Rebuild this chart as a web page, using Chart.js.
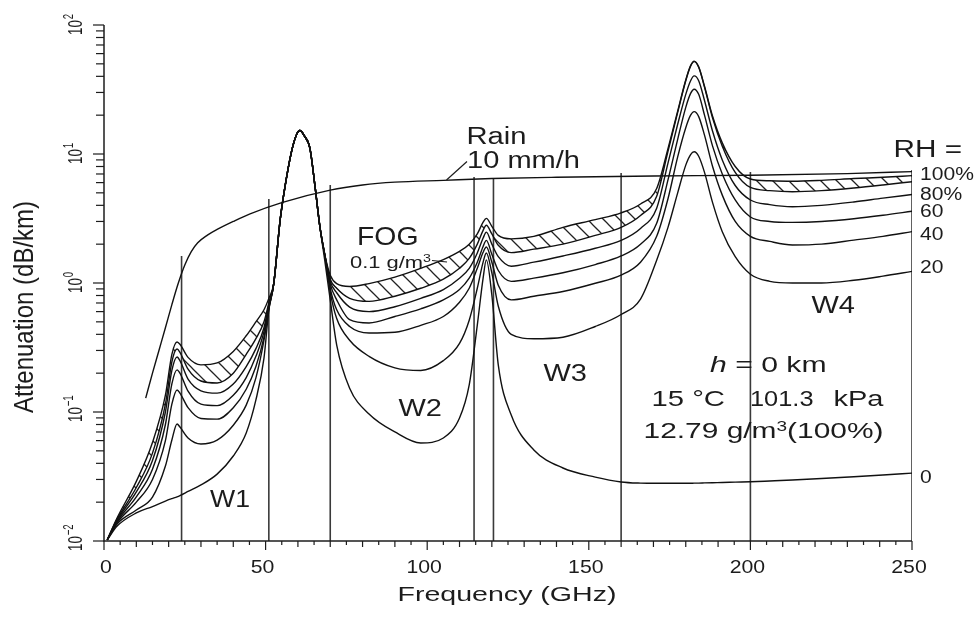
<!DOCTYPE html>
<html><head><meta charset="utf-8">
<script src="https://cdn.jsdelivr.net/npm/chart.js@4.4.1/dist/chart.umd.min.js"></script>
<style>html,body{margin:0;padding:0;background:#fff;}#wrap{width:977px;height:617px;}</style>
</head><body><div id="wrap"><canvas id="c" width="977" height="617"></canvas></div>
<script>
// ---------- data ----------
const FREQ = [1,4,10,15,19,21,22.6,23.5,26,30, 35,40,44,47,49.5,51,52.5,54.5,56,58, 59.5,60.6,62,63.7,65.3,66.8,68.4,70,72,76, 82,90,98,105,110,113,115.5,117.3,118.3,120, 122,126,133,142,152,160,166,171,174.5,177.5, 180,181.5,182.6,184,185.8,188.3,191.3,195.3,200,206, 213,222,232,241,250];
const RH0 = [0.0102,0.013,0.0165,0.0185,0.0204,0.0213,0.022,0.0225,0.0242,0.0272, 0.033,0.0456,0.0688,0.124,0.262,0.616,0.98,3.08,5.58,10.4, 14.0,15.2,13.8,11.1,5.58,2.73,1.44,0.74,0.33,0.153, 0.0965,0.07,0.0575,0.0629,0.0898,0.162,0.472,1.09,1.51,0.807, 0.231,0.0948,0.0508,0.0368,0.0313,0.0287,0.0281,0.028,0.028,0.028, 0.028,0.028,0.0281,0.0281,0.0282,0.0283,0.0284,0.0286,0.0288,0.0292, 0.0297,0.0305,0.0315,0.0325,0.0336];
const RH20 = [0.0102,0.0135,0.0174,0.0219,0.0381,0.0607,0.0807,0.0765,0.0629,0.0565, 0.0606,0.079,0.113,0.184,0.36,0.63,0.98,3.08,5.58,10.4, 14.0,15.2,13.8,11.1,5.58,2.73,1.6,0.85,0.53,0.36, 0.27,0.22,0.21,0.25,0.34,0.515,0.91,1.45,1.71,1.2, 0.66,0.40,0.37,0.38,0.46,0.57,0.75,1.5,2.7,5.0, 8.2,9.9,10.4,9.6,7.2,4.2,2.5,1.6,1.17,1.03, 1.0,1.0,1.05,1.13,1.23];
const RH40 = [0.0102,0.0138,0.020,0.030,0.060,0.115,0.148,0.14,0.108,0.089, 0.088,0.108,0.15,0.225,0.38,0.64,0.98,3.08,5.58,10.4, 14.0,15.2,13.8,11.1,5.58,2.73,1.6,0.91,0.62,0.46, 0.41,0.415,0.47,0.55,0.71,0.91,1.3,1.73,1.9,1.45, 0.96,0.74,0.79,0.86,0.995,1.15,1.45,2.3,4.5,9.5, 16,20,21.3,19.5,14,8.0,4.8,3.0,2.3,2.1, 1.97,2.0,2.15,2.3,2.5];
const RH60 = [0.0102,0.0141,0.022,0.036,0.08,0.165,0.212,0.2,0.145,0.115, 0.112,0.135,0.185,0.27,0.42,0.66,0.98,3.08,5.58,10.4, 14.0,15.2,13.8,11.1,5.58,2.73,1.6,0.98,0.74,0.52, 0.49,0.55,0.63,0.74,0.89,1.09,1.45,1.92,2.14,1.67, 1.25,1.03,1.09,1.2,1.39,1.62,2.0,2.9,6.3,13, 23,29.5,31.8,29,20,11.5,7.0,4.4,3.25,3.0, 2.95,3.0,3.15,3.35,3.6];
const RH80 = [0.0102,0.0144,0.024,0.042,0.1,0.21,0.267,0.25,0.18,0.146, 0.14,0.165,0.225,0.31,0.45,0.68,0.98,3.08,5.58,10.4, 14.0,15.2,13.8,11.1,5.58,2.73,1.6,1.03,0.84,0.65, 0.60,0.655,0.76,0.89,1.09,1.3,1.71,2.23,2.48,2.0, 1.6,1.35,1.45,1.62,1.86,2.14,2.65,3.8,8.5,17, 29,37,40.3,37,26,15,9.0,5.7,4.4,4.05, 3.9,4.0,4.25,4.55,4.85];
const RH100 = [0.0102,0.0147,0.026,0.048,0.115,0.245,0.308,0.29,0.215,0.174, 0.168,0.2,0.28,0.37,0.5,0.7,0.98,3.08,5.58,10.4, 14.0,15.2,13.8,11.1,5.58,2.73,1.6,1.07,0.91,0.76, 0.72,0.79,0.91,1.07,1.3,1.55,2.0,2.56,2.8,2.4, 1.96,1.72,1.83,2.0,2.34,2.7,3.34,4.7,10.5,21, 37,48,52,47,33,19,11.5,7.2,5.5,5.2, 5.1,5.2,5.45,5.75,6.1];
const FOG = [0.0102,0.015,0.029,0.058,0.135,0.28,0.349,0.335,0.265,0.232, 0.24,0.295,0.39,0.5,0.62,0.76,0.99,3.08,5.58,10.4, 14.0,15.2,13.8,11.1,5.58,2.73,1.62,1.15,0.99,0.94, 0.99,1.11,1.3,1.52,1.76,2.0,2.4,2.96,3.17,2.75, 2.34,2.2,2.3,2.7,3.1,3.5,4.1,5.4,11,21.5, 37.5,48.5,52.5,47.5,33.5,19.6,12.2,8.0,6.4,6.2, 6.15,6.25,6.45,6.6,6.8];
const RAIN_FREQ = [12.9,15,17,19,21,23,25,27,29,32,35,40,45,55,70,80,90,105,120,140,170,200,230,250];
const RAIN = [0.128,0.2,0.3,0.45,0.68,1.0,1.38,1.75,2.05,2.35,2.6,3.0,3.42,4.2,5.25,5.75,6.05,6.25,6.45,6.6,6.75,6.85,7.05,7.3];
const WINDOW_EDGES = [24,51,70,114.5,120.5,160,200,250];
const WINDOW_TOPS = [1.62,4.48,5.75,6.64,6.4,7.12,7.25,7.52];
const X_TICK_LABELS = [0,50,100,150,200,250];
const Y_DECADES = [-2,-1,0,1,2];
const RH_LABELS = ['100%','80%','60','40','20','0'];
const WINDOW_NAMES = ['W1','W2','W3','W4'];

// ---------- helpers ----------
const FAM = '"Liberation Sans", Arial, Helvetica, sans-serif';
const pts = (xs, ys) => xs.map((x, i) => ({x: x, y: ys[i]}));
function hatchPattern(){
  const s = 16, c = document.createElement('canvas'); c.width = s; c.height = s;
  const g = c.getContext('2d'); g.strokeStyle = '#222'; g.lineWidth = 1.25;
  [[-s,0],[0,0],[s,0]].forEach(o => { g.beginPath(); g.moveTo(o[0]-1, o[1]-1); g.lineTo(o[0]+s+1, o[1]+s+1); g.stroke(); });
  return g.createPattern(c, 'repeat');
}
function txt(ctx, parts, x, y, o){
  o = o || {};
  ctx.save(); ctx.translate(x, y); if (o.rot) ctx.rotate(o.rot);
  ctx.textBaseline = 'alphabetic'; ctx.textAlign = 'left'; ctx.fillStyle = '#1c1c1c';
  let w = 0;
  const ms = parts.map(p => { ctx.font = (p[3] ? 'italic ' : '') + p[1] + 'px ' + FAM; const m = ctx.measureText(p[0]).width; w += m; return m; });
  const k = o.width ? o.width / w : (o.sx || 1);
  ctx.scale(k, o.sy || 1);
  let cx = o.align === 'center' ? -w / 2 : (o.align === 'right' ? -w : 0);
  parts.forEach((p, i) => { ctx.font = (p[3] ? 'italic ' : '') + p[1] + 'px ' + FAM; ctx.fillText(p[0], cx, -(p[2] || 0)); cx += ms[i]; });
  ctx.restore();
}
function seg(ctx, x1, y1, x2, y2){ ctx.beginPath(); ctx.moveTo(x1, y1); ctx.lineTo(x2, y2); ctx.stroke(); }

const deco = {
  id: 'deco',
  afterDraw(chart){
    const ctx = chart.ctx, X = chart.scales.x, Y = chart.scales.y;
    const L = X.getPixelForValue(0), R = X.getPixelForValue(250), B = Y.getPixelForValue(0.01), T = Y.getPixelForValue(100);
    ctx.save();
    ctx.strokeStyle = '#1c1c1c'; ctx.lineWidth = 1.5;
    seg(ctx, L, T, L, B + 0.5); seg(ctx, L - 0.5, B, R, B);
    ctx.lineWidth = 1.2;
    for (let f = 0; f <= 250; f += 5){
      const px = X.getPixelForValue(f);
      const len = f % 50 === 0 ? 9 : (f % 10 === 0 ? 6 : 4);
      seg(ctx, px, B, px, B + len);
    }
    for (let d = -2; d <= 2; d++){
      for (let m = 1; m <= 9; m++){
        if (d === 2 && m > 1) break;
        const py = Y.getPixelForValue(m * Math.pow(10, d));
        seg(ctx, L, py, L - (m === 1 ? 11 : 8), py);
      }
    }
    X_TICK_LABELS.forEach(v => {
      const px = X.getPixelForValue(v) + (v === 0 ? 2 : -3);
      txt(ctx, [[String(v), 18]], px, 573, {align: 'center', sx: 1.18});
    });
    Y_DECADES.forEach(d => {
      const py = Y.getPixelForValue(Math.pow(10, d));
      const ex = d < 0 ? '\u2212' + Math.abs(d) : String(d);
      ctx.save(); ctx.translate(82, py); ctx.rotate(-Math.PI / 2);
      ctx.fillStyle = '#1c1c1c'; ctx.textBaseline = 'alphabetic';
      const sx = 0.74, sy = 1.1;
      ctx.scale(sx, sy);
      ctx.font = '18px ' + FAM; const w10 = ctx.measureText('10').width;
      const start = -w10 / 2 - 2.5 / sx;
      ctx.fillText('10', start, 0);
      ctx.font = '13px ' + FAM; ctx.fillText(ex, start + w10 + 1, -8.5);
      ctx.restore();
    });
    txt(ctx, [['Frequency (GHz)', 21]], 507, 601, {align: 'center', width: 219});
    txt(ctx, [['Attenuation (dB/km)', 24]], 33, 307, {align: 'center', rot: -Math.PI / 2, sy: 1.16});
    txt(ctx, [['Rain', 23]], 466.5, 144, {width: 60});
    txt(ctx, [['10 mm/h', 23]], 467, 168, {width: 113});
    ctx.lineWidth = 1.2; ctx.strokeStyle = '#1c1c1c';
    seg(ctx, 446.5, 180, 467, 161.5);
    txt(ctx, [['FOG', 25]], 357, 245, {width: 61.5});
    txt(ctx, [['0.1 g/m', 17], ['3', 11, 6]], 350, 268, {width: 81});
    seg(ctx, 432, 260.5, 447, 262);
    const wpos = [[210, 506.5, 40], [398.5, 416, 43.5], [543.5, 381, 43.5], [811.5, 313, 43.5]];
    WINDOW_NAMES.forEach((n, i) => txt(ctx, [[n, 23]], wpos[i][0], wpos[i][1], {width: wpos[i][2]}));
    txt(ctx, [['h', 22, 0, true], [' = 0 km', 22]], 710, 372, {width: 116.5});
    txt(ctx, [['15 \u00b0C', 22]], 651.5, 405.5, {width: 73.5});
    txt(ctx, [['101.3', 22]], 750, 405.5, {width: 63.5});
    txt(ctx, [['kPa', 22]], 833.5, 405.5, {width: 50});
    txt(ctx, [['12.79 g/m', 22], ['3', 14, 7.5], ['(100%)', 22]], 643.5, 438, {width: 240});
    txt(ctx, [['RH =', 23]], 893.5, 156.5, {width: 68.5});
    const rhY = [180, 200, 216.5, 240, 272.5, 483];
    RH_LABELS.forEach((s, i) => txt(ctx, [[s, 18]], 920, rhY[i], {sx: 1.17}));
    ctx.restore();
  }
};

const curve = {borderColor: '#111', borderWidth: 1.4, pointRadius: 0, cubicInterpolationMode: 'monotone', fill: false};
const datasets = [
  Object.assign({data: pts(FREQ, RH0)}, curve),
  Object.assign({data: pts(FREQ, RH20)}, curve),
  Object.assign({data: pts(FREQ, RH40)}, curve),
  Object.assign({data: pts(FREQ, RH60)}, curve),
  Object.assign({data: pts(FREQ, RH80)}, curve),
  Object.assign({data: pts(FREQ, RH100)}, curve),
  Object.assign({}, curve, {data: pts(FREQ, FOG), fill: '-1', backgroundColor: hatchPattern()}),
  Object.assign({data: pts(RAIN_FREQ, RAIN)}, curve),
];
WINDOW_EDGES.forEach((f, i) => datasets.push({data: [{x: f, y: 0.01}, {x: f, y: WINDOW_TOPS[i]}], borderColor: '#3a3a3a', borderWidth: 1.6, pointRadius: 0, fill: false}));

new Chart(document.getElementById('c'), {
  type: 'line',
  data: {datasets: datasets},
  options: {
    responsive: false, animation: false, devicePixelRatio: 1,
    layout: {padding: {left: 104, right: 65, top: 25, bottom: 76}},
    plugins: {legend: {display: false}, tooltip: {enabled: false}},
    scales: {
      x: {type: 'linear', min: 0, max: 250, display: false},
      y: {type: 'logarithmic', min: 0.01, max: 100, display: false}
    }
  },
  plugins: [deco]
});
</script></body></html>
